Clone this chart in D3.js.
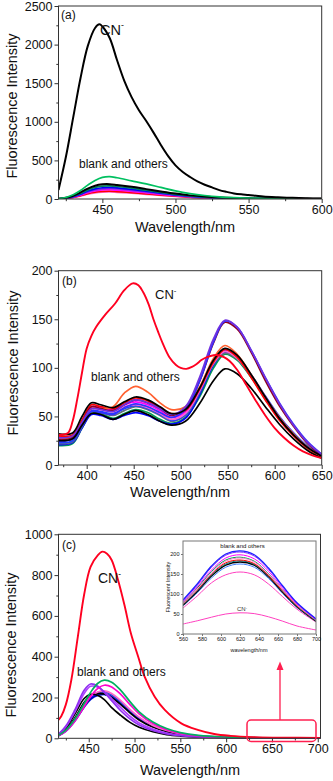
<!DOCTYPE html>
<html><head><meta charset="utf-8">
<script src="https://cdn.jsdelivr.net/npm/d3@7"></script>
<style>
html,body{margin:0;padding:0;background:#fff;}
svg{display:block;font-family:"Liberation Sans",Arial,sans-serif;}
</style></head>
<body><svg id="c" width="333" height="781"></svg>
<script>
// ---------- Panel (a) data ----------
const aWlCN = [420,425,430,435,440,445,448,450,455,460,465,470,475,480,485,490,495,500,505,510,515,520,525,530,535,540,545,550,555,560,570,580,590,600];
const aCN   = [117,540,1050,1560,1980,2215,2262,2235,2085,1800,1530,1320,1150,1010,860,700,555,436,350,285,228,185,150,115,92,72,60,52,42,32,22,15,9,5];
const aWl   = [420,425,430,435,440,445,450,455,460,470,480,490,500,510,520,530,540,550,560,580,600];
const aPink    = [2,7,19,38,62,80,89,92,87,75,61,46,33,22,14,9,6,4,3,1,1];
const aRed     = [2,8,21,42,69,88,98,101,96,83,67,51,36,24,16,10,7,4,3,2,1];
const aMagenta = [2,9,25,50,82,105,117,120,114,99,80,60,43,29,19,12,8,5,3,2,1];
const aPurple  = [3,10,28,57,93,119,132,136,130,112,90,68,48,32,21,13,9,6,4,2,1];
const aBlue    = [3,11,31,63,103,132,146,150,143,124,100,76,54,36,24,15,10,6,4,2,1];
const aTeal    = [3,13,36,72,118,150,166,170,162,140,113,86,61,41,27,17,11,7,5,3,1];
const aBlack   = [4,15,42,85,135,172,190,192,182,158,128,98,70,47,31,20,13,9,6,3,2];
const aGreen   = [5,20,55,110,180,240,280,290,275,235,195,150,105,70,45,28,18,12,8,4,2];
const aXTicks = [450,500,550,600], aXMinor = [425,475,525,575];
const aYTicks = [0,500,1000,1500,2000,2500], aYMinor = [250,750,1250,1750,2250];

// ---------- Panel (b) data ----------
const bWlCN = [370,380,385,390,395,400,405,410,420,430,440,449,455,460,466,471,476,481,488,495,500,506,512,517,522,528,535,540,546,552,560,570,580,590,600,610,620,630,640,650];
const bCN   = [31,33,45,68,95,120,133,142,155,166,180,187,185,178,165,150,137,125,111,103,100,99,101,104,108,111,113,113,111,107,98,82,66,51,38,28,20,14,10,7];
const bWl   = [370,385,395,405,415,428,440,452,465,478,490,505,520,535,547,560,575,590,605,620,635,650];
const bGreen   = [20,22,38,53,53,48,53,57,54,47,43,49,70,100,114,108,90,69,49,32,19,9];
const bBlue    = [21,23,38,52,51,47,51,54,51,45,42,48,72,103,116,110,91,69,48,31,18,9];
const bTeal    = [22,24,39,55,54,51,56,60,57,51,45,51,74,104,115,109,91,69,48,31,18,9];
const bNavy    = [23,25,40,56,55,53,58,61,58,52,46,52,75,105,118,112,93,71,50,33,19,9];
const bPink    = [27,29,43,58,57,55,60,62,59,53,47,53,76,105,117,110,91,68,47,31,18,8];
const bMagenta = [29,30,45,60,59,57,62,65,62,56,49,55,78,107,119,112,92,69,48,31,18,8];
const bRed2    = [30,31,46,62,60,58,64,69,66,59,53,56,78,106,119,111,90,67,46,30,17,8];
const bOrange  = [27,29,43,58,58,60,74,81,75,64,57,60,80,110,123,114,93,70,49,32,18,8];
const bMaroon  = [26,28,43,60,58,56,62,67,64,58,51,58,86,126,147,140,116,87,61,40,22,10];
const bBlueHi  = [24,27,41,55,54,52,59,63,60,54,49,57,86,127,148,142,118,90,64,42,24,11];
const bPurpleHi= [28,30,44,58,57,55,62,67,64,58,52,60,90,130,149,142,118,90,63,41,23,11];
const bBlackLo = [25,27,41,53,52,47,52,56,52,45,41,45,63,87,99,94,79,60,42,27,15,7];
const bBlack   = [32,33,50,64,62,59,65,70,67,60,53,57,79,108,120,113,93,70,48,31,18,9];
const bXTicks = [400,450,500,550,600,650], bXMinor = [375,425,475,525,575,625];
const bYTicks = [0,50,100,150,200], bYMinor = [25,75,125,175];

// ---------- Panel (c) data ----------
const cWlCN = [417,420,425,431,438,445,452,460,465,470,475,482,489,496,504,511,522,533,551,569,587,605,630,660,703];
const cCN   = [90,108,165,286,495,705,840,898,915,905,874,776,653,515,400,302,204,139,73,41,21,12,6,3,2];
const cWl   = [417,425,435,445,452,460,467,475,485,495,505,520,535,550,570,600,630,660,703];
const cBlue3   = [12,34,85,152,190,210,214,202,170,132,96,59,35,20,10,4,2,1,1];
const cNavy    = [13,36,88,155,192,212,216,204,172,134,98,60,36,21,11,4,2,1,1];
const cBlue    = [15,40,95,165,200,218,220,205,170,130,95,58,35,20,10,4,2,1,1];
const cTeal    = [16,42,98,172,208,225,226,212,178,137,100,61,37,21,11,5,2,1,1];
const cBlack2  = [14,40,100,175,210,220,218,200,165,125,90,55,33,19,10,4,2,1,1];
const cPink    = [14,38,92,165,205,227,232,220,185,142,104,63,38,22,11,5,2,1,1];
const cBlack   = [18,50,120,195,215,210,190,150,112,78,54,32,18,11,6,3,2,1,1];
const cViolet  = [18,55,130,220,255,250,228,195,150,108,75,45,26,15,8,3,2,1,1];
const cPurple  = [20,60,140,235,266,255,225,185,135,95,65,38,22,13,7,3,2,1,1];
const cMagenta = [12,35,85,155,205,245,260,252,215,165,120,72,42,24,12,5,3,2,1];
const cGreen   = [15,40,95,170,225,270,285,275,235,180,130,80,48,28,14,6,3,2,1];
const cXTicks = [450,500,550,600,650,700], cXMinor = [425,475,525,575,625,675];
const cYTicks = [0,200,400,600,800,1000], cYMinor = [100,300,500,700,900];

// ---------- Inset data ----------
const iWl = [560,575,590,605,620,635,650,665,680,700];
const iPinkLo  = [65,95,128,148,155,148,125,93,62,30];
const iSteel   = [70,103,140,167,175,167,139,101,66,32];
const iBlack   = [72,106,145,172,180,172,143,104,68,32];
const iTeal    = [74,108,148,175,183,174,145,106,69,33];
const iRed     = [75,110,150,178,185,176,146,107,70,34];
const iGreen   = [78,115,156,185,192,182,151,110,72,34];
const iPink    = [76,112,152,182,190,180,150,110,72,35];
const iMagenta = [80,118,160,190,198,188,157,114,75,36];
const iPurple  = [83,122,167,197,205,195,162,118,77,37];
const iBlue    = [85,125,170,200,208,198,165,120,78,38];
const iCN      = [25,33,42,50,53,51,43,32,20,10];
const iXTicks = [560,580,600,620,640,660,680,700];
const iYTicks = [0,50,100,150,200];

// ---------- drawing ----------
const svg = d3.select("#c");
const FONT = '"Liberation Sans",Arial,sans-serif';
let clipId = 0;

function panel(o){
  const x = d3.scaleLinear().domain(o.xd).range([o.L,o.R]);
  const y = d3.scaleLinear().domain(o.yd).range([o.B,o.T]);
  const g = svg.append("g");
  if(o.bg) g.append("rect").attr("x",o.L).attr("y",o.T).attr("width",o.R-o.L).attr("height",o.B-o.T).attr("fill","#fff");
  const id = "clip"+(clipId++);
  g.append("clipPath").attr("id",id).append("rect")
    .attr("x",o.L).attr("y",o.T-2).attr("width",o.R-o.L).attr("height",o.B-o.T+2);
  const lg = g.append("g").attr("clip-path","url(#"+id+")");
  const line = d3.line().curve(d3.curveCatmullRom.alpha(0.5));
  o.series.forEach(s=>{
    lg.append("path")
      .attr("d", line(s.x.map((v,i)=>[x(v), y(s.y[i])])))
      .attr("fill","none").attr("stroke",s.c).attr("stroke-width",s.w||o.lw||1.7)
      .attr("stroke-linejoin","round");
  });
  g.append("rect").attr("x",o.L).attr("y",o.T).attr("width",o.R-o.L).attr("height",o.B-o.T)
    .attr("fill","none").attr("stroke",o.frame||"#333").attr("stroke-width",o.fw||1);
  const fmt = d3.format("d");
  const xa = g.append("g").attr("transform",`translate(0,${o.B})`)
    .call(d3.axisBottom(x).tickValues(o.xt).tickFormat(fmt).tickSize(o.ts).tickSizeOuter(0).tickPadding(o.tp));
  const xm = g.append("g").attr("transform",`translate(0,${o.B})`)
    .call(d3.axisBottom(x).tickValues(o.xm||[]).tickFormat("").tickSize(o.ts*0.55).tickSizeOuter(0));
  const ya = g.append("g").attr("transform",`translate(${o.L},0)`)
    .call(d3.axisLeft(y).tickValues(o.yt).tickFormat(fmt).tickSize(o.ts).tickSizeOuter(0).tickPadding(o.tp));
  const ym = g.append("g").attr("transform",`translate(${o.L},0)`)
    .call(d3.axisLeft(y).tickValues(o.ym||[]).tickFormat("").tickSize(o.ts*0.55).tickSizeOuter(0));
  [xa,xm,ya,ym].forEach(a=>{
    a.select(".domain").remove();
    a.selectAll("line").attr("stroke",o.frame||"#333");
    a.selectAll("text").attr("font-family",FONT).attr("font-size",o.fs).attr("fill","#111");
  });
  g.append("text").attr("x",o.xtx).attr("y",o.xty).attr("text-anchor","middle")
    .attr("font-family",FONT).attr("font-size",o.tfs).attr("fill","#111").text(o.xtitle);
  g.append("text").attr("transform",`translate(${o.ytx},${o.yty}) rotate(-90)`).attr("text-anchor","middle")
    .attr("dominant-baseline","central")
    .attr("font-family",FONT).attr("font-size",o.tfs).attr("fill","#111").text(o.ytitle);
  return {x,y,g};
}

function label(t,xp,yp,fs,anchor){
  return svg.append("text").attr("x",xp).attr("y",yp).attr("font-family",FONT).attr("font-size",fs)
    .attr("fill","#111").attr("text-anchor",anchor||"start").text(t);
}
function cnLabel(xp,yp,fs){
  const t = svg.append("text").attr("x",xp).attr("y",yp).attr("font-family",FONT).attr("font-size",fs).attr("fill","#111");
  t.append("tspan").text("CN");
  t.append("tspan").attr("font-size",fs*0.6).attr("dy",-fs*0.45).text("-");
}

// Panel (a)
panel({L:58.5,R:321.7,T:6,B:199,xd:[420,600],yd:[0,2500],xt:aXTicks,xm:aXMinor,yt:aYTicks,ym:aYMinor,
  ts:4,tp:2,fs:12.5,tfs:14.5,xtitle:"Wavelength/nm",ytitle:"Fluorescence Intensity",
  xtx:185,xty:232,ytx:12,yty:106,
  series:[
    {x:aWl,y:aPink,c:"#ff66cc"},{x:aWl,y:aRed,c:"#ff0000"},{x:aWl,y:aMagenta,c:"#ff00ff"},
    {x:aWl,y:aPurple,c:"#8a2be2"},{x:aWl,y:aBlue,c:"#0000ff"},{x:aWl,y:aTeal,c:"#008060"},
    {x:aWl,y:aBlack,c:"#000000",w:2},{x:aWl,y:aGreen,c:"#00c060"},
    {x:aWlCN,y:aCN,c:"#000000",w:2}
  ]});
label("(a)",61,19,12);
cnLabel(100,35,14.5);
label("blank and others",79,168,12);

// Panel (b)
panel({L:58.5,R:321.7,T:270.7,B:465,xd:[370,650],yd:[0,200],xt:bXTicks,xm:bXMinor,yt:bYTicks,ym:bYMinor,
  ts:4,tp:2,fs:12.5,tfs:14.5,xtitle:"Wavelength/nm",ytitle:"Fluorescence Intensity",
  xtx:180,xty:497,ytx:13,yty:363,
  series:[
    {x:bWl,y:bGreen,c:"#00a050"},{x:bWl,y:bBlue,c:"#0000ff"},{x:bWl,y:bTeal,c:"#607080"},
    {x:bWl,y:bNavy,c:"#2040ff"},{x:bWl,y:bPink,c:"#ff66cc"},{x:bWl,y:bMagenta,c:"#ff00ff"},
    {x:bWl,y:bRed2,c:"#ff0000"},{x:bWl,y:bOrange,c:"#ff6030"},{x:bWl,y:bMaroon,c:"#900020"},
    {x:bWl,y:bBlueHi,c:"#3030ff"},{x:bWl,y:bPurpleHi,c:"#7030e0"},{x:bWl,y:bBlackLo,c:"#000000"},
    {x:bWl,y:bBlack,c:"#000000"},
    {x:bWlCN,y:bCN,c:"#ff0020",w:1.9}
  ]});
label("(b)",62,285,12);
cnLabel(155,299,13);
label("blank and others",91,381,12);

// Panel (c)
panel({L:58.5,R:320.5,T:534.3,B:738.3,xd:[417,703],yd:[0,1000],xt:cXTicks,xm:cXMinor,yt:cYTicks,ym:cYMinor,
  ts:4,tp:2,fs:12.5,tfs:14.5,xtitle:"Wavelength/nm",ytitle:"Fluorescence Intensity",
  xtx:190,xty:775,ytx:11,yty:645,
  series:[
    {x:cWl,y:cBlue3,c:"#4060ff"},{x:cWl,y:cNavy,c:"#0000a0"},{x:cWl,y:cBlue,c:"#0000ff"},
    {x:cWl,y:cTeal,c:"#3050d0"},{x:cWl,y:cBlack2,c:"#000000"},{x:cWl,y:cPink,c:"#ff66cc"},
    {x:cWl,y:cBlack,c:"#000000"},{x:cWl,y:cViolet,c:"#b040ff"},{x:cWl,y:cPurple,c:"#9030f0"},
    {x:cWl,y:cMagenta,c:"#ff00cc"},{x:cWl,y:cGreen,c:"#00b060"},
    {x:cWlCN,y:cCN,c:"#ff0020",w:1.9}
  ]});
label("(c)",62,549,12);
cnLabel(98,583,14);
label("blank and others",77,676,12);

// Inset
panel({L:183,R:316,T:541,B:634,xd:[560,700],yd:[0,232.5],xt:iXTicks,yt:iYTicks,
  ts:2,tp:1.5,fs:5.5,tfs:5.5,xtitle:"wavelength/nm",ytitle:"Fluorescent Intensity",
  xtx:249,xty:652,ytx:168,yty:587,bg:true,frame:"#777",lw:1,
  series:[
    {x:iWl,y:iPinkLo,c:"#ff40c0"},{x:iWl,y:iSteel,c:"#4080ff"},{x:iWl,y:iBlack,c:"#000000",w:1.3},
    {x:iWl,y:iTeal,c:"#008080"},{x:iWl,y:iRed,c:"#ff0000"},{x:iWl,y:iGreen,c:"#00a050"},
    {x:iWl,y:iPink,c:"#ff80d0"},{x:iWl,y:iMagenta,c:"#ff00ff"},{x:iWl,y:iPurple,c:"#8030ff"},
    {x:iWl,y:iBlue,c:"#2020ff",w:1.3},{x:iWl,y:iCN,c:"#ff40c0"}
  ]});
label("blank and others",242.5,548,6,"middle");
{
  const t = svg.append("text").attr("x",242).attr("y",611).attr("font-family",FONT).attr("font-size",6).attr("fill","#333").attr("text-anchor","middle");
  t.append("tspan").text("CN");
  t.append("tspan").attr("font-size",4).attr("dy",-2.5).text("-");
}

// red highlight box and arrow
svg.append("rect").attr("x",247).attr("y",720).attr("width",69).attr("height",21.5).attr("rx",4)
  .attr("fill","none").attr("stroke","#ff2050").attr("stroke-width",1.5);
svg.append("line").attr("x1",280).attr("y1",720).attr("x2",280).attr("y2",668)
  .attr("stroke","#ff2050").attr("stroke-width",1.3);
svg.append("path").attr("d","M280,661.5 L276.5,670 L283.5,670 Z").attr("fill","#ff2050");
</script></body></html>
